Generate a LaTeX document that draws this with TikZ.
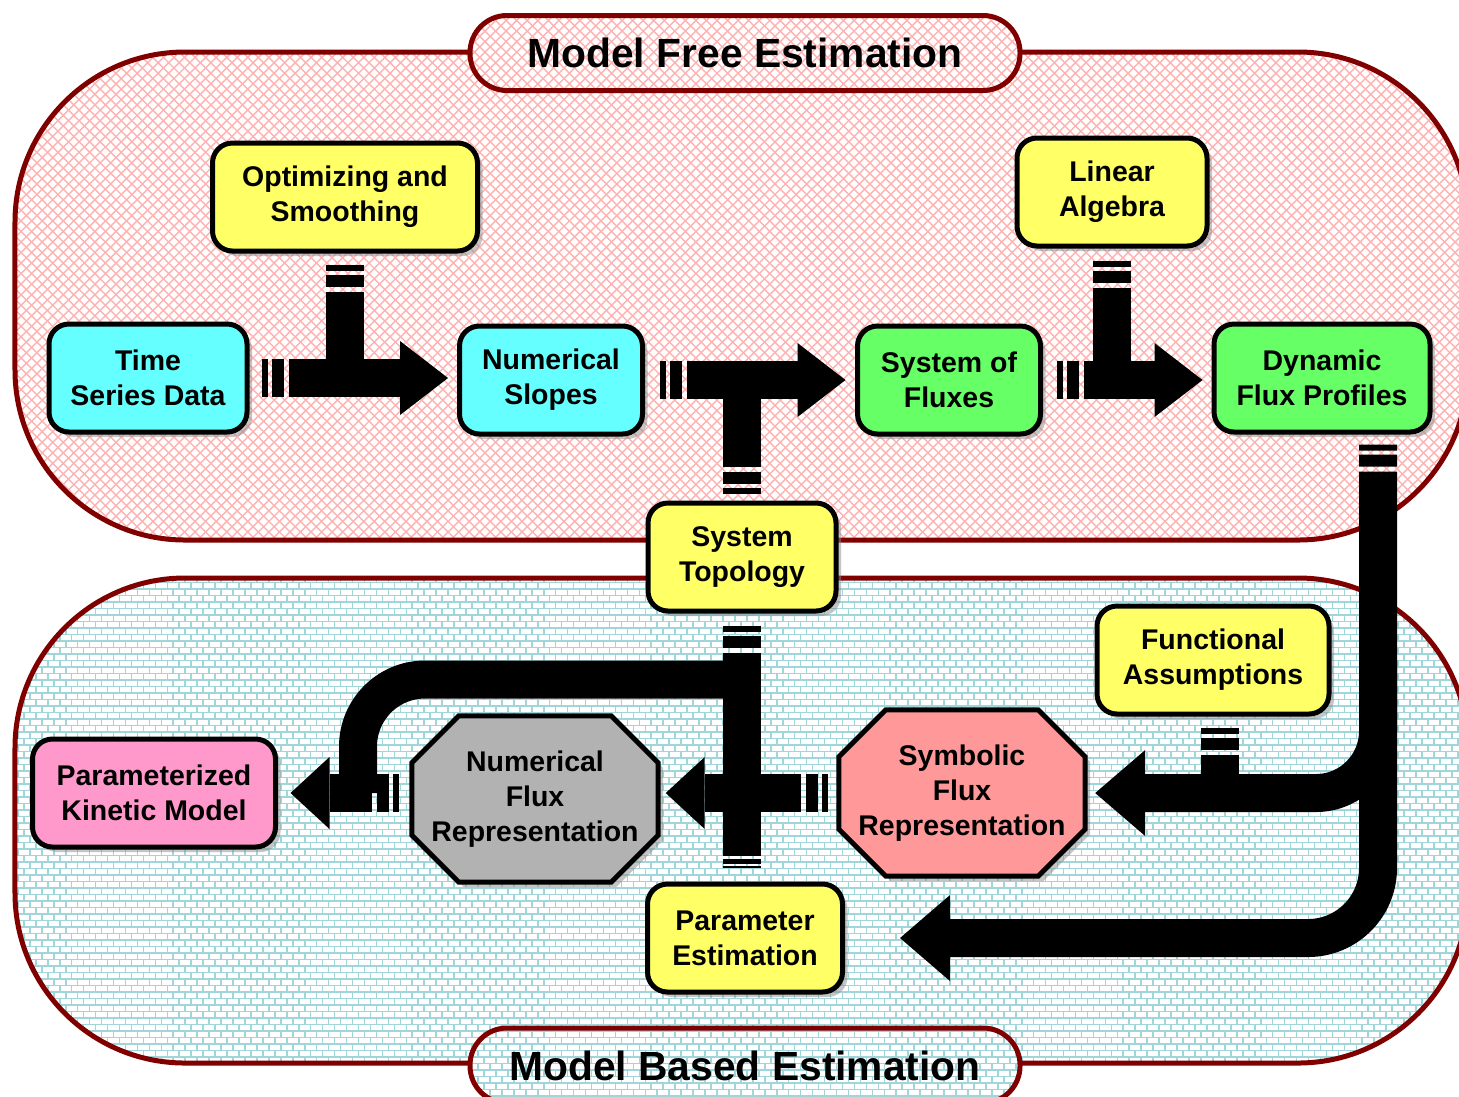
\documentclass[tikz,border=0pt]{standalone}
\usepackage{fontspec}
\setmainfont{Liberation Sans}
\usetikzlibrary{arrows.meta,patterns,shadows}

\definecolor{regionred}{RGB}{128,0,0}
\definecolor{hatchline}{RGB}{255,178,178}
\definecolor{brickline}{RGB}{160,214,218}
\definecolor{boxyellow}{RGB}{255,255,102}
\definecolor{boxcyan}{RGB}{102,255,255}
\definecolor{boxgreen}{RGB}{102,255,102}
\definecolor{boxpink}{RGB}{255,153,204}
\definecolor{boxgray}{RGB}{178,178,178}
\definecolor{boxsalmon}{RGB}{255,153,153}

\pgfdeclarelayer{back}
\pgfdeclarelayer{mid}
\pgfsetlayers{back,mid,main}

\pgfdeclarepatternformonly{small bricks}{\pgfqpoint{-0.5pt}{-0.5pt}}{\pgfqpoint{3.9pt}{4.2pt}}{\pgfqpoint{3.4pt}{3.7pt}}{
	\pgfsetlinewidth{0.45pt}
	\pgfpathmoveto{\pgfqpoint{0pt}{0pt}}\pgfpathlineto{\pgfqpoint{3.4pt}{0pt}}
	\pgfpathmoveto{\pgfqpoint{0pt}{1.85pt}}\pgfpathlineto{\pgfqpoint{3.4pt}{1.85pt}}
	\pgfpathmoveto{\pgfqpoint{0pt}{0pt}}\pgfpathlineto{\pgfqpoint{0pt}{1.85pt}}
	\pgfpathmoveto{\pgfqpoint{1.7pt}{1.85pt}}\pgfpathlineto{\pgfqpoint{1.7pt}{3.7pt}}
	\pgfusepath{stroke}
}

\begin{document}
\begin{tikzpicture}
		[font=\fontsize{8.1}{10}\selectfont\bfseries,
		region/.style={draw=regionred,line width=0.05cm,rounded corners=1.7cm},
		hatch/.style={preaction={fill=white},preaction={pattern=north west lines,pattern color=hatchline},pattern=north east lines,pattern color=hatchline},
		brick/.style={preaction={fill=white},pattern=small bricks,pattern color=brickline},
		pill/.style={draw=regionred,line width=0.05cm,rounded corners=0.37cm,minimum width=5.5cm,minimum height=0.75cm,font=\fontsize{11.6}{14}\selectfont\bfseries},
		box/.style={draw=black,line width=0.05cm,rounded corners=0.2cm,align=center,minimum height=1.08cm,inner sep=0pt,
			drop shadow={shadow xshift=0.05cm,shadow yshift=-0.05cm,fill=black!45}},
		octframe/.style={align=center,minimum width=2.45cm,minimum height=1.65cm,inner sep=0pt},
		octline/.style={draw=black,line width=0.05cm,
			drop shadow={shadow xshift=0.05cm,shadow yshift=-0.05cm,fill=black!45}},
		flow/.style={line width=0.38cm,dash pattern=on 0.06cm off 0.04cm on 0.12cm off 0.05cm on 30cm off 0.1cm},
		endflow/.style={line width=0.38cm,dash pattern=on 0.02cm off 0.02cm on 0.05cm off 0.03cm on 30cm off 0.1cm},
		flowhead/.style={-{Triangle[width=0.74cm,length=0.48cm,line width=0pt]}},
		shorthead/.style={-{Triangle[width=0.72cm,length=0.39cm,line width=0pt]}},
		longhead/.style={-{Triangle[width=0.86cm,length=0.5cm,line width=0pt]}}]

		\path[use as bounding box] (0,0) rectangle (14.59,-10.96);

		\begin{pgfonlayer}{back}
		\fill[white] (0,0) rectangle (14.59,-10.96);
		\draw[region,hatch] (0.15,-0.52) rectangle (14.68,-5.40);
		\draw[region,brick] (0.15,-5.78) rectangle (14.68,-10.63);
		\node[pill,hatch] (mfe) at (7.45,-0.53) {Model Free Estimation};
		\node[pill,brick] (mbe) at (7.45,-10.655) {Model Based Estimation};
		\end{pgfonlayer}

		\node[box,fill=boxyellow,minimum width=2.65cm] (opt) at (3.45,-1.97) {Optimizing and\\Smoothing};
		\node[box,fill=boxyellow,minimum width=1.90cm] (lin) at (11.12,-1.92) {Linear\\Algebra};
		\node[box,fill=boxcyan,minimum width=1.98cm] (ts) at (1.48,-3.78) {Time\\Series Data};
		\node[box,fill=boxcyan,minimum width=1.83cm] (ns) at (5.51,-3.80) {Numerical\\Slopes};
		\node[box,fill=boxgreen,minimum width=1.83cm] (sf) at (9.49,-3.80) {System of\\Fluxes};
		\node[box,fill=boxgreen,minimum width=2.16cm] (dfp) at (13.22,-3.78) {Dynamic\\Flux Profiles};
		\node[box,fill=boxyellow,minimum width=1.88cm] (st) at (7.42,-5.57) {System\\Topology};
		\node[box,fill=boxyellow,minimum width=2.32cm] (fa) at (12.13,-6.60) {Functional\\Assumptions};
		\node[box,fill=boxpink,minimum width=2.43cm] (pkm) at (1.54,-7.93) {Parameterized\\Kinetic Model};
		\node[octframe] (nfr) at (5.35,-7.99) {Numerical\\Flux\\Representation};
		\node[octframe] (sfr) at (9.62,-7.93) {Symbolic\\Flux\\Representation};
		\node[box,fill=boxyellow,minimum width=1.95cm] (pe) at (7.45,-9.38) {Parameter\\Estimation};

		\begin{pgfonlayer}{mid}
		\foreach \o/\c in {nfr/boxgray,sfr/boxsalmon}
			\draw[octline,fill=\c] ([xshift=0.47cm]\o.north west) -- ([xshift=-0.47cm]\o.north east)
				-- ([yshift=-0.47cm]\o.north east) -- ([yshift=0.47cm]\o.south east)
				-- ([xshift=-0.47cm]\o.south east) -- ([xshift=0.47cm]\o.south west)
				-- ([yshift=0.47cm]\o.south west) -- ([yshift=-0.47cm]\o.north west) -- cycle;
		\end{pgfonlayer}

		\draw[flow,flowhead] ([xshift=0.12cm]ts.east) -- ([xshift=-0.09cm]ns.west |- ts.east);
		\draw[flow] ([yshift=-0.11cm]opt.south) -- (opt.south |- ts.east);
		\draw[flow,flowhead] ([xshift=0.15cm]ns.east) -- ([xshift=-0.095cm]sf.west |- ns.east);
		\draw[flow] ([yshift=0.07cm]st.north) -- (st.north |- ns.east);
		\draw[flow,flowhead] ([xshift=0.14cm]sf.east) -- ([xshift=-0.09cm]dfp.west |- sf.east);
		\draw[flow] ([yshift=-0.12cm]lin.south) -- (lin.south |- sf.east);

		\draw[flow,longhead,rounded corners=0.7cm] ([xshift=0.56cm,yshift=-0.1cm]dfp.south) |- ([xshift=0.55cm]pe.east);
		\draw[line width=0.38cm,longhead,rounded corners=0.62cm] ([xshift=0.56cm]dfp.south |- fa.center) |- ([xshift=0.1cm]sfr.east);
		\draw[flow] ([xshift=0.07cm,yshift=-0.11cm]fa.south) -- ([xshift=0.07cm]fa.south |- sfr.east);

		\draw[flow,shorthead] ([xshift=-0.11cm]sfr.west) -- ([xshift=0.075cm]nfr.east |- sfr.west);
		\draw[flow] ([yshift=-0.12cm]st.south) -- (st.south |- sfr.west);
		\draw[endflow] ([yshift=0.14cm]st.south |- pe.north) -- (st.south |- sfr.west);
		\draw[line width=0.38cm,rounded corners=0.67cm] ([yshift=-0.66cm]st.south) -| ([xshift=0.8cm]pkm.east);
		\draw[flow,shorthead] ([xshift=-0.125cm]nfr.west |- pkm.east) -- ([xshift=0.125cm]pkm.east);

	\end{tikzpicture}
\end{document}
